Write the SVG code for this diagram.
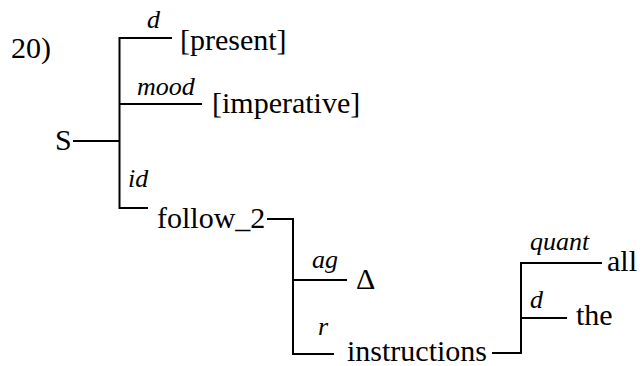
<svg xmlns="http://www.w3.org/2000/svg" width="644" height="366" viewBox="0 0 644 366">
<style>
.t{font-family:'Liberation Serif','Times New Roman',serif;font-size:30px;fill:#000}
.l{font-family:'Liberation Serif','Times New Roman',serif;font-size:26px;font-style:italic;fill:#000}
.c{stroke:#000;stroke-width:2;fill:none}
</style>
<rect width="644" height="366" fill="#fff"/>
<g id="label-num"><text class="t" x="11" y="58">20)</text></g>
<g id="connectors">
<polyline class="c" points="73,141 119.5,141"/>
<polyline class="c" points="172,38 119.5,38 119.5,208 148,208"/>
<polyline class="c" points="119.5,104 202,104"/>
<polyline class="c" points="267,219 293,219 293,354 334,354"/>
<polyline class="c" points="293,280 347,280"/>
<polyline class="c" points="492,353 521,353 521,263 602,263"/>
<polyline class="c" points="521,318 567,318"/>
</g>
<g id="edge-labels">
<text class="l" x="147" y="28">d</text>
<text class="l" x="137" y="95">mood</text>
<text class="l" x="128" y="187">id</text>
<text class="l" x="312" y="268">ag</text>
<text class="l" x="318" y="335">r</text>
<text class="l" x="530" y="250">quant</text>
<text class="l" x="530" y="308">d</text>
</g>
<g id="node-S"><text class="t" x="55" y="150">S</text></g>
<g id="node-present"><text class="t" x="180" y="50">[present]</text></g>
<g id="node-imperative"><text class="t" x="212" y="113">[imperative]</text></g>
<g id="node-follow2"><text class="t" x="157" y="228">follow_2</text></g>
<g id="node-delta"><text class="t" x="356" y="289">Δ</text></g>
<g id="node-instructions"><text class="t" x="347" y="361">instructions</text></g>
<g id="node-all"><text class="t" x="607" y="271">all</text></g>
<g id="node-the"><text class="t" x="576" y="325">the</text></g>
</svg>
